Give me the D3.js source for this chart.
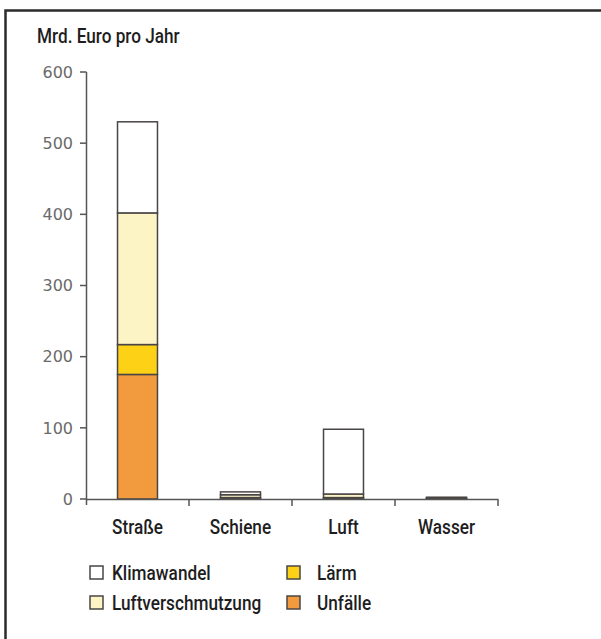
<!DOCTYPE html>
<html>
<head>
<meta charset="utf-8">
<script src="https://cdn.jsdelivr.net/npm/d3@7"></script>
<style>
  body { margin: 0; background: #fff; }
  svg { display: block; }
  .lbl { font-family: Roboto, "Noto Sans", sans-serif; font-weight: 500; fill: #1e1e1e; }
</style>
</head>
<body>
<svg id="chart" width="601" height="639"></svg>
<script>
// categories and series (Mrd. Euro pro Jahr)
const categories = ['Straße', 'Schiene', 'Luft', 'Wasser'];
const seriesNames = ['Unfälle', 'Lärm', 'Luftverschmutzung', 'Klimawandel'];
const unfaelle = [175, 1, 1, 0.5];
const laerm = [42, 1, 1, 0.3];
const luftverschmutzung = [185, 4, 5, 0.7];
const klimawandel = [128, 4, 91, 1];
const yTicks = [0, 100, 200, 300, 400, 500, 600];
const colors = ['#f19a3e', '#fcd116', '#fdf4c6', '#ffffff'];

const svg = d3.select('#chart');
const squeeze = 0.86;

// condensed label: horizontal squeeze around its anchor point
function label(sel, x, y, txt, anchor) {
  return sel.append('text')
      .attr('class', 'lbl')
      .attr('transform', `translate(${x},${y}) scale(${squeeze},1)`)
      .attr('text-anchor', anchor || 'start')
      .attr('font-size', 20)
      .text(txt);
}

// frame (runs off right and bottom)
svg.append('rect')
    .attr('x', 5.5).attr('y', 10.5)
    .attr('width', 620).attr('height', 660)
    .attr('fill', 'none')
    .attr('stroke', '#2b2b2b')
    .attr('stroke-width', 2.5);

const x = d3.scaleBand()
    .domain(categories)
    .range([86, 498])
    .paddingInner(0.612)
    .paddingOuter(0.306);
const xb = d3.scaleBand().domain(categories).range([86, 498]);
const y = d3.scaleLinear().domain([0, 600]).range([499, 72]);

const rows = categories.map((c, i) => ({
  cat: c,
  'Unfälle': unfaelle[i],
  'Lärm': laerm[i],
  'Luftverschmutzung': luftverschmutzung[i],
  'Klimawandel': klimawandel[i],
}));
const stacked = d3.stack().keys(seriesNames)(rows);

const axisColor = '#555';

// y axis
const yAxis = svg.append('g');
yAxis.append('line')
    .attr('x1', 86.5).attr('x2', 86.5)
    .attr('y1', y(600)).attr('y2', 505)
    .attr('stroke', axisColor).attr('stroke-width', 1.5);
yTicks.forEach((t) => {
  yAxis.append('line')
      .attr('x1', 80).attr('x2', 86.5)
      .attr('y1', y(t)).attr('y2', y(t))
      .attr('stroke', axisColor).attr('stroke-width', 1.5);
  yAxis.append('text')
      .attr('x', 73).attr('y', y(t))
      .attr('dy', '0.36em')
      .attr('text-anchor', 'end')
      .attr('font-family', 'DejaVu Sans, Verdana, sans-serif')
      .attr('font-size', 16)
      .attr('fill', '#6a6a6a')
      .text(t);
});

// bars
svg.append('g').selectAll('g')
    .data(stacked)
    .enter()
    .append('g')
    .attr('fill', (d, i) => colors[i])
    .selectAll('rect')
    .data((d) => d)
    .enter()
    .append('rect')
    .attr('x', (d) => x(d.data.cat))
    .attr('width', x.bandwidth())
    .attr('y', (d) => y(d[1]))
    .attr('height', (d) => y(d[0]) - y(d[1]))
    .attr('stroke', '#4a4545')
    .attr('stroke-width', 1.5);

// x axis
const xAxis = svg.append('g');
xAxis.append('line')
    .attr('x1', 86).attr('x2', 498.5)
    .attr('y1', 499.5).attr('y2', 499.5)
    .attr('stroke', axisColor).attr('stroke-width', 1.5);
categories.forEach((c) => {
  xAxis.append('line')
      .attr('x1', xb(c) + xb.bandwidth()).attr('x2', xb(c) + xb.bandwidth())
      .attr('y1', 499.5).attr('y2', 506)
      .attr('stroke', axisColor).attr('stroke-width', 1.5);
  label(xAxis, x(c) + x.bandwidth() / 2, 534, c, 'middle');
});

// title
label(svg, 37, 43, 'Mrd. Euro pro Jahr');

// legend
const legendItems = [
  {name: 'Klimawandel', col: 0, row: 0},
  {name: 'Lärm', col: 1, row: 0},
  {name: 'Luftverschmutzung', col: 0, row: 1},
  {name: 'Unfälle', col: 1, row: 1},
];
const legend = svg.append('g');
legendItems.forEach((it) => {
  const lx = it.col === 0 ? 90 : 287;
  const ly = 566 + it.row * 30;
  legend.append('rect')
      .attr('x', lx).attr('y', ly)
      .attr('width', 13).attr('height', 13)
      .attr('fill', colors[seriesNames.indexOf(it.name)])
      .attr('stroke', '#4a4545')
      .attr('stroke-width', 1.5);
  label(legend, lx + (it.col === 0 ? 22 : 30), ly + 14, it.name);
});
</script>
</body>
</html>
